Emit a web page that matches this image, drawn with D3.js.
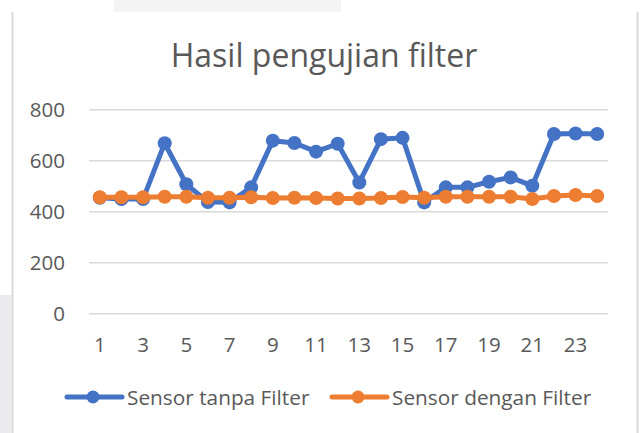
<!DOCTYPE html>
<html>
<head>
<meta charset="utf-8">
<script src="https://cdn.jsdelivr.net/npm/d3@7"></script>
<style>
  html, body { margin: 0; padding: 0; background: #fff; }
  svg { display: block; }
  text { font-family: "Open Sans", sans-serif; fill: #595959; }
</style>
</head>
<body>
<svg id="chart" width="640" height="433"></svg>
<script>
// ---- data ----
const categories = ["1","2","3","4","5","6","7","8","9","10","11","12","13","14","15","16","17","18","19","20","21","22","23","24"];
const seriesNames = ["Sensor tanpa Filter", "Sensor dengan Filter"];
const sensorTanpaFilter = [453,448,448,667,506,436,435,494,677,668,634,665,513,683,688,435,494,494,516,533,500,703,705,703];
const sensorDenganFilter = [455,455,455,457,457,453,453,455,452,453,452,450,450,452,456,453,457,457,457,457,448,460,464,460];
const xTickLabels = ["1","3","5","7","9","11","13","15","17","19","21","23"];
const yTicks = [0,200,400,600,800];
const titleText = "Hasil pengujian filter";
const colors = ["#4472C4", "#ED7D31"];

// ---- layout ----
const svg = d3.select("#chart");
const plot = { left: 89, right: 608, top: 109.3, bottom: 313.3 };

// frame decorations
svg.append("rect").attr("x", 114).attr("y", 0).attr("width", 227).attr("height", 12).attr("fill", "#f4f4f4");
svg.append("rect").attr("x", 0).attr("y", 295).attr("width", 11.5).attr("height", 138).attr("fill", "#ebebee");
svg.append("line").attr("x1", 12.5).attr("x2", 12.5).attr("y1", 12).attr("y2", 433).attr("stroke", "#d9d9d9").attr("stroke-width", 2);
svg.append("line").attr("x1", 637.5).attr("x2", 637.5).attr("y1", 12).attr("y2", 433).attr("stroke", "#d9d9d9").attr("stroke-width", 2);

// title
svg.append("text").attr("x", 324).attr("y", 67).attr("text-anchor", "middle")
  .style("font-size", "32px").text(titleText);

// scales
const x = d3.scaleBand().domain(categories).range([plot.left, plot.right]);
const cx = c => x(c) + x.bandwidth() / 2;
const y = d3.scaleLinear().domain([0, 800]).range([plot.bottom, plot.top]);

// y axis + gridlines
const yAxis = svg.append("g").attr("transform", `translate(${plot.left},0)`)
  .call(d3.axisLeft(y).tickValues(yTicks).tickSize(-(plot.right - plot.left)).tickPadding(24));
yAxis.select(".domain").remove();
yAxis.selectAll(".tick line").attr("stroke", "#d9d9d9").attr("stroke-width", 1.5);
yAxis.selectAll(".tick text").attr("fill", "#595959").style("font-size", "20.5px")
  .style("font-family", "'Open Sans', sans-serif").attr("dy", "0.36em");

// x axis labels
const xAxis = svg.append("g").attr("transform", `translate(0,${plot.bottom})`)
  .call(d3.axisBottom(x).tickValues(xTickLabels).tickSize(0).tickPadding(24));
xAxis.select(".domain").remove();
xAxis.selectAll(".tick text").attr("fill", "#595959").style("font-size", "20.5px")
  .style("font-family", "'Open Sans', sans-serif");

// series
const series = [sensorTanpaFilter, sensorDenganFilter];
const line = d3.line().x((d, i) => cx(categories[i])).y(d => y(d));
series.forEach((vals, si) => {
  const g = svg.append("g");
  g.append("path").datum(vals).attr("d", line).attr("fill", "none")
    .attr("stroke", colors[si]).attr("stroke-width", 5).attr("stroke-linejoin", "round").attr("stroke-linecap", "round");
  g.selectAll("circle").data(vals).join("circle")
    .attr("cx", (d, i) => cx(categories[i])).attr("cy", d => y(d)).attr("r", 7)
    .attr("fill", colors[si]);
});

// legend
const legendY = 397;
const legendStarts = [67, 332];
seriesNames.forEach((name, si) => {
  const g = svg.append("g").attr("transform", `translate(${legendStarts[si]},${legendY})`);
  g.append("line").attr("x1", 0).attr("x2", 55).attr("y1", 0).attr("y2", 0)
    .attr("stroke", colors[si]).attr("stroke-width", 5).attr("stroke-linecap", "round");
  g.append("circle").attr("cx", 26).attr("cy", 0).attr("r", 6.5).attr("fill", colors[si]);
  g.append("text").attr("x", 60).attr("y", 0).attr("dy", "0.36em").style("font-size", "20.8px").text(name);
});
</script>
</body>
</html>
